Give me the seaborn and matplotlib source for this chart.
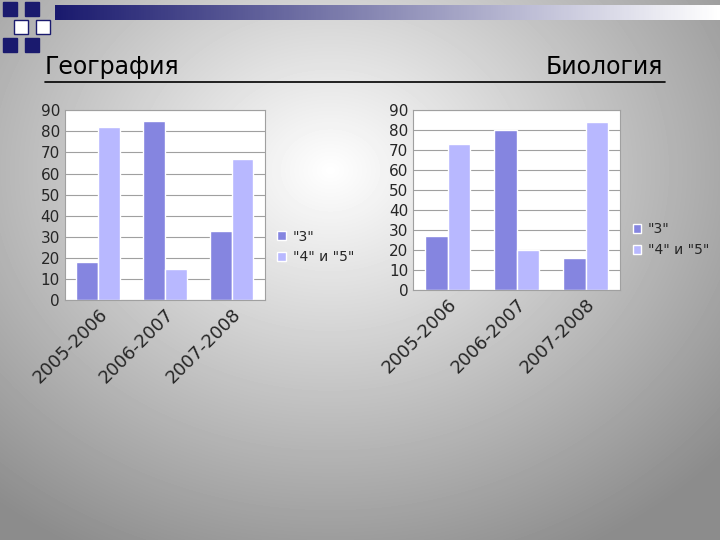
import pandas as pd
import numpy as np
import matplotlib.pyplot as plt
import seaborn as sns

years = ['2005-2006', '2006-2007', '2007-2008']
series = ['"3"', '"4" и "5"']
geo_3 = [18, 85, 33]
geo_45 = [82, 15, 67]
bio_3 = [27, 80, 16]
bio_45 = [73, 20, 84]

colors = ['#8585E0', '#B8B8FF']

sns.set_style('white')
plt.rcParams['font.family'] = ['DejaVu Sans']

fig = plt.figure(figsize=(7.2, 5.4), dpi=100)

# slide background: light centre, gray edges
bg = fig.add_axes([0, 0, 1, 1])
yy, xx = np.mgrid[0:540, 0:720]
d = np.sqrt(((xx - 330) / 520.0) ** 2 + ((yy - 170) / 430.0) ** 2)
shade = np.clip(1.0 - 0.45 * d, 0.55, 1.0)
bg.imshow(shade, cmap='gray', vmin=0, vmax=1, extent=[0, 720, 540, 0], aspect='auto')
bg.set_xlim(0, 720)
bg.set_ylim(540, 0)
bg.axis('off')

# top decoration
strip = np.linspace(0.0, 1.0, 300).reshape(1, -1)
bg.imshow(strip, cmap=sns.blend_palette(['#1a1a6e', '#ffffff'], as_cmap=True),
          extent=[55, 720, 20, 5], aspect='auto')
for (x, y) in [(0, 0), (22, 0), (11, 18), (33, 18), (0, 36), (22, 36)]:
    bg.add_patch(plt.Rectangle((x + 3, y + 2), 14, 14, facecolor='#1a1a6e' if (x + y) % 2 == 0 else 'white',
                               edgecolor='#1a1a6e', lw=1))
bg.plot([45, 665], [82, 82], color='black', lw=1.2)
bg.text(45, 79, 'География', fontsize=17, ha='left', va='bottom', color='black')
bg.text(663, 79, 'Биология', fontsize=17, ha='right', va='bottom', color='black')


def draw(rect, v3, v45):
    ax = fig.add_axes(rect)
    df = pd.DataFrame({'year': years * 2,
                       'series': [series[0]] * 3 + [series[1]] * 3,
                       'value': v3 + v45})
    sns.barplot(data=df, x='year', y='value', hue='series', palette=colors,
                width=0.65, ax=ax, saturation=1)
    ax.set_facecolor('white')
    ax.set_ylim(0, 90)
    ax.set_yticks(range(0, 91, 10))
    ax.grid(axis='y', color='#a0a0a0', lw=0.8)
    ax.set_axisbelow(True)
    for s in ax.spines.values():
        s.set_color('#a0a0a0')
    ax.set_xlabel('')
    ax.set_ylabel('')
    ax.tick_params(axis='both', labelsize=11, length=0)
    plt.setp(ax.get_xticklabels(), rotation=45, ha='right', rotation_mode='anchor', fontsize=13)
    ax.legend(loc='center left', bbox_to_anchor=(1.0, 0.28), frameon=False, fontsize=10,
              handlelength=0.6, handleheight=0.6, handletextpad=0.5)
    return ax


draw([0.09, 0.444, 0.278, 0.352], geo_3, geo_45)
draw([0.574, 0.463, 0.2875, 0.333], bio_3, bio_45)

fig.savefig('out.png', dpi=100)
